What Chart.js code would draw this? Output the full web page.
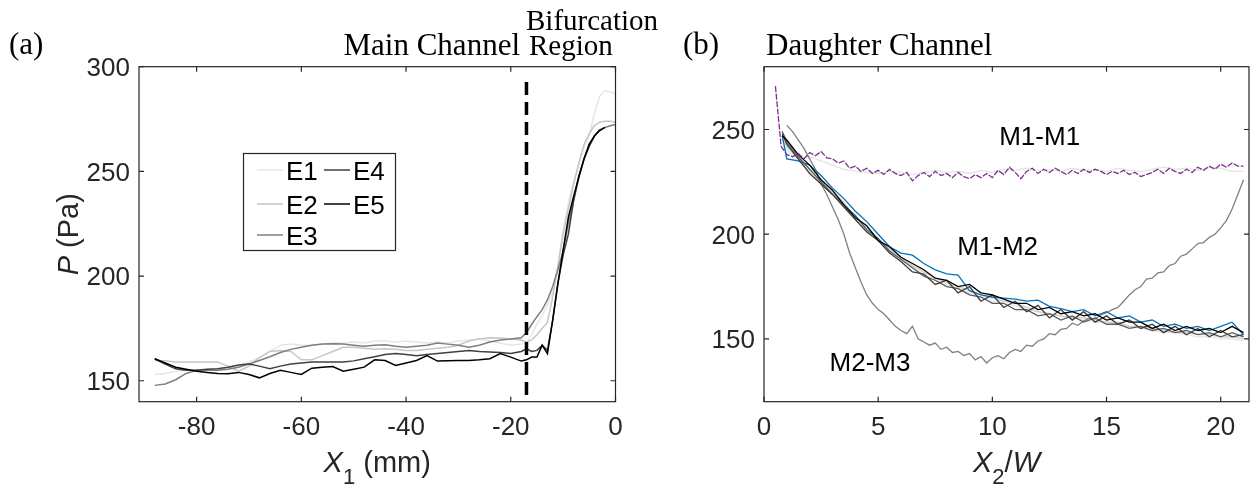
<!DOCTYPE html>
<html lang="en">
<head>
<meta charset="UTF-8">
<title>Pressure along main and daughter channels</title>
<script src="https://cdn.jsdelivr.net/npm/chart.js"></script>
<style>
  body { margin: 0; background: #fff; }
  #wrap { position: relative; width: 1256px; height: 491px; }
  canvas { position: absolute; top: 0; }
  #chartA { left: 0; }
  #chartB { left: 640px; }
</style>
</head>
<body>
<div id="wrap">
  <canvas id="chartA" width="700" height="491"></canvas>
  <canvas id="chartB" width="616" height="491"></canvas>
</div>
<script>
// ---- panel (a): main channel, X1 in mm ----
const xA = [-88,-86,-84,-82,-80,-78,-76,-74,-72,-70,-68,-66,-64,-62,-60,-58,-56,-54,-52,-50,
  -48,-46,-44,-42,-40,-38,-36,-34,-32,-30,-28,-26,-24,-22,-20,-18,
  -17,-16,-15,-14,-13,-12,-11,-10,-9,-8,-7,-6,-5,-4,-3,-2,-1,0];
const e1 = [153,153.5,154.5,155,155,155.5,155,156,157,159,161,164,167,167.5,167,167,167.5,168,168,168.5,
  168,169,169,168.5,169,168.5,168,168.5,168,169,169.5,170,169,168,167,167.5,
  168,172,177,181,186,193,205,222,235,245,253,262,267,278,286,288.5,288,287];
const e2 = [159.7,159.5,159,159,159,159,159,157,154.6,157,161,164,164.5,164,160,160,162,164,166,166,
  165.5,165,165.3,165,164.5,164.5,165,165.5,166,167,169,170,170.5,170.4,170,169.5,
  168.5,169.5,172,175,178,190,205,220,232,244,254,263,268,272,273.5,274,274,273.5];
const e3 = [147.8,148.5,150.5,153.5,155,155,155,155.5,156.5,158,159.7,161.5,163.5,165,166,167,167.5,167.7,167.5,167,
  166.5,167,167.2,166.5,166,166.5,167,168,167.5,167,166,167,168.5,169.5,170,170.5,
  173,177,180.6,184,188.6,195,203,212,225,236,247,256,263,267,270,271,271.8,272.4];
const e4 = [160.5,158,155.7,155,155,155.5,155.7,156.5,157.5,158,157,155.7,157,158,158.5,159,159,159,159,159.5,
  160.5,161.5,162.5,163,162.5,162,162.5,163,163.5,164,164.5,164,163.7,163.5,163,164,
  165.3,164,164.5,166.9,164.5,178.8,196.5,210,220,236,248,256,262,267,270,null,null,null];
const e5 = [160.5,158.5,156.5,155.5,154.5,154,153.5,153.3,154,153,151.4,153.5,155,154,153,156,156.5,156.8,154.6,155.5,
  156.5,160,159.7,157.3,158.5,159.7,162,159.4,159.5,159.7,159.7,160,160.5,163,161.3,159.4,
  160,161.3,161.3,167,163,178.8,196.5,212.4,228,238,247.3,256,263,267,269.5,271,null,null];
const xTicksA = [-80,-60,-40,-20,0];
const yTicksA = [150,200,250,300];
const bifurcationX = -17;

// ---- panel (b): daughter channel, X2/W ----
const xM11 = [0.5,0.75,1,1.25,1.5,1.75,2,2.25,2.5,2.75,3,3.25,3.5,3.75,4,4.25,4.5,4.75,5,5.25,
  5.5,5.75,6,6.25,6.5,6.75,7,7.25,7.5,7.75,8,8.25,8.5,8.75,9,9.25,9.5,9.75,10,10.25,
  10.5,10.75,11,11.25,11.5,11.75,12,12.25,12.5,12.75,13,13.25,13.5,13.75,14,14.25,14.5,14.75,15,15.25,
  15.5,15.75,16,16.25,16.5,16.75,17,17.25,17.5,17.75,18,18.25,18.5,18.75,19,19.25,19.5,19.75,20,20.25,
  20.5,20.75,21];
const m11 = [270.7,242,238,237,238.5,236,239,237.5,239.5,236.5,236,234,235,231.5,232.5,230,231.5,229,230.5,228.5,
  231,229,228,229.5,225.5,228,229.5,227.5,230,228,229,227,229.5,227.5,226.5,228.5,227,229,227,230.5,
  228.5,232,229.5,226.5,230,231.5,229,231,229.5,231.5,230,228.5,230.5,229,231,229.5,231,230,228.5,230,
  229,230.5,228.5,229.5,227.5,228.5,229.5,231,229,231.5,230,229,231,229.5,232,230.5,232.5,231,233.5,232,
  234,232.5,232.5];
const m23 = [null,null,252,249,245,241,236,231,224,219,213,207,200,191,184,177,171,167,164,162,
  159,156,154,152.5,156,150,148.5,147,148,145,146,143.5,144,142,143,140,141.5,138.5,141,142,
  140.5,143.5,145,144,147,146.5,149,150,152.5,152,154.5,155,157.5,156.5,158.5,160,159.5,161.5,162.5,164,
  165,168,171,173.5,175,178.5,179,181.5,182,185,186,189.5,190.5,193,195.5,196,198.5,200,203,206.5,
  212,219,226];
const xB = [0.8,1,1.5,2,2.5,3,3.5,4,4.5,5,5.5,6,6.5,7,7.5,8,8.5,9,9.5,10,
  10.5,11,11.5,12,12.5,13,13.5,14,14.5,15,15.5,16,16.5,17,17.5,18,18.5,19,19.5,20,20.5,21];
const m11Light = [241,240,236,237,235,233,231,230,229.5,229,230,229.5,228.5,229.5,230.5,229.5,230,229,230.5,229.5,
  231,230.5,231.5,230.5,231,230,231.5,230.5,231,230,231.5,230.5,230,231,232,231,231.5,230.5,232,231.5,230,230];
const m12Blue = [247,236,235,233,228,222,217,211,206,200,194,191,190,186,183,181,180.5,173,171,170,
  169.5,169,168,168.5,165.5,164.5,163,164,161,163,160,161,158,159,156,157,155,156,154,156,158,152];
const m12Black = [247,245,238,233,226,221,214,208,204,197,194,189,186,183,179,178,175,176,172,171,
  169,167,167,164,165,162,163,161,162,159,160,158,158,155,157,154,156,154,155,153,156,153];
const m12Dark = [248,243,236,229,224,219,213,207,201,197,191,187,182,181,176,178,172,175,168,171,
  165,168,163,166,160,164,159,163,158,161,157,159,155,157,153,156,152,155,151,154,151,152];
const m12Mid = [249,244,237,231,225,219,214,209,202,198,192,188,184,180,178,175,174,171,170,167,
  167,164,164,161,162,159,161,158,160,157,157,155,156,154,155,153,154,152,153,151,153,151];
const m12Light = [246,242,236,231,225,220,215,208,203,198,193,189,185,182,179,177,175,173,171,169.5,
  168,167,165,163,162,161,160,160,159,158,158,156,156,155,154,153,153,152,152,151,151,150];
const m12Pale = [245,241,235,230,224,219,213,207,202,197,192,188,184,181,178,176,174,172,170,168,
  167,166,164,163,162,161,160,159,158,158,157,156,155,154,153,153,152,151,151,150,150,149];
const xTicksB = [0,5,10,15,20];
const yTicksB = [150,200,250];
const pairLabels = [
  { text: 'M1-M1', x: 10.3, y: 246.2 },
  { text: 'M1-M2', x: 8.46, y: 193.3 },
  { text: 'M2-M3', x: 2.87, y: 138.3 }
];

const SANS = "'Liberation Sans', Arial, Helvetica, sans-serif";
const SERIF = "'Liberation Serif', 'Times New Roman', serif";
const INK = '#262626';

function pts(xs, ys) {
  return xs.map((x, i) => ({ x: x, y: ys[i] }));
}

function line(label, xs, ys, color, extra) {
  return Object.assign({
    label: label, data: pts(xs, ys), borderColor: color, backgroundColor: color,
    borderWidth: 1.5, pointRadius: 0, tension: 0, fill: false, spanGaps: false
  }, extra || {});
}

// box, inward ticks and tick labels (matlab look)
const boxTicks = {
  id: 'boxTicks',
  afterDatasetsDraw(chart) {
    const ctx = chart.ctx, a = chart.chartArea;
    const sx = chart.scales.x, sy = chart.scales.y;
    ctx.save();
    ctx.strokeStyle = INK;
    ctx.lineWidth = 1.2;
    ctx.strokeRect(a.left, a.top, a.right - a.left, a.bottom - a.top);
    ctx.beginPath();
    sx.ticks.forEach(t => {
      const p = sx.getPixelForValue(t.value);
      ctx.moveTo(p, a.bottom); ctx.lineTo(p, a.bottom - 5);
      ctx.moveTo(p, a.top); ctx.lineTo(p, a.top + 5);
    });
    sy.ticks.forEach(t => {
      const p = sy.getPixelForValue(t.value);
      ctx.moveTo(a.left, p); ctx.lineTo(a.left + 5, p);
      ctx.moveTo(a.right, p); ctx.lineTo(a.right - 5, p);
    });
    ctx.stroke();

    ctx.fillStyle = INK;
    ctx.font = '26px ' + SANS;
    ctx.textBaseline = 'alphabetic';
    ctx.textAlign = 'center';
    sx.ticks.forEach(t => {
      ctx.fillText(String(t.value), sx.getPixelForValue(t.value), a.bottom + 33.5);
    });
    ctx.textAlign = 'right';
    sy.ticks.forEach(t => {
      ctx.fillText(String(t.value), a.left - 9, sy.getPixelForValue(t.value) + 9.3);
    });
    ctx.restore();
  }
};

// text made of pieces: {t, italic, sub}
function drawRich(ctx, parts, cx, baseY, size, rotate) {
  const sub = 22;
  const fontOf = p => (p.italic ? 'italic ' : '') + (p.sub ? sub : size) + 'px ' + SANS;
  let total = 0;
  parts.forEach(p => { ctx.font = fontOf(p); total += ctx.measureText(p.t).width; });
  ctx.save();
  ctx.fillStyle = INK;
  ctx.textBaseline = 'alphabetic';
  ctx.textAlign = 'left';
  if (rotate) {
    ctx.translate(cx, baseY);
    ctx.rotate(-Math.PI / 2);
    cx = 0; baseY = 0;
  }
  let x = cx - total / 2;
  parts.forEach(p => {
    ctx.font = fontOf(p);
    ctx.fillText(p.t, x, baseY + (p.sub ? 12 : 0));
    x += ctx.measureText(p.t).width;
  });
  ctx.restore();
}

function baseOptions(xMin, xMax, xTicks, yMin, yMax, yTicks, yWidth, rightPad) {
  return {
    responsive: false,
    animation: false,
    devicePixelRatio: 1,
    layout: { padding: { left: 0, right: rightPad, top: 66.7, bottom: 0 } },
    plugins: { legend: { display: false }, tooltip: { enabled: false } },
    scales: {
      x: {
        type: 'linear', min: xMin, max: xMax,
        afterBuildTicks: s => { s.ticks = xTicks.map(v => ({ value: v })); },
        afterFit: s => { s.height = 89.3; },
        grid: { display: false, drawTicks: false },
        border: { display: false },
        ticks: { display: false }
      },
      y: {
        type: 'linear', min: yMin, max: yMax,
        afterBuildTicks: s => { s.ticks = yTicks.map(v => ({ value: v })); },
        afterFit: s => { s.width = yWidth; },
        grid: { display: false, drawTicks: false },
        border: { display: false },
        ticks: { display: false }
      }
    }
  };
}

// ---------- chart (a) ----------
const setsA = [
  line('E5', xA, e5, '#000000'),
  line('E4', xA, e4, '#404040'),
  line('E3', xA, e3, '#7f7f7f'),
  line('E2', xA, e2, '#c9c5bf'),
  line('E1', xA, e1, '#e6e6e6')
];

const decorA = {
  id: 'decorA',
  afterDatasetsDraw(chart) {
    const ctx = chart.ctx, a = chart.chartArea, sx = chart.scales.x;
    // bifurcation marker
    const px = sx.getPixelForValue(bifurcationX);
    ctx.save();
    ctx.strokeStyle = '#000';
    ctx.lineWidth = 3.5;
    ctx.setLineDash([13, 7]);
    ctx.beginPath();
    ctx.moveTo(px, 82); ctx.lineTo(px, a.bottom);
    ctx.stroke();
    ctx.setLineDash([]);

    // legend, two columns
    ctx.fillStyle = '#fff';
    ctx.fillRect(243, 153, 152, 97);
    ctx.strokeStyle = INK;
    ctx.lineWidth = 1.2;
    ctx.strokeRect(243.5, 153.5, 152, 97);
    const byLabel = {};
    chart.data.datasets.forEach(d => { byLabel[d.label] = d.borderColor; });
    const cells = [
      ['E1', 257, 170], ['E2', 257, 204], ['E3', 257, 235],
      ['E4', 324, 170], ['E5', 324, 204]
    ];
    ctx.font = '26px ' + SANS;
    ctx.textBaseline = 'alphabetic';
    ctx.textAlign = 'left';
    cells.forEach(c => {
      ctx.strokeStyle = byLabel[c[0]];
      ctx.lineWidth = 1.5;
      ctx.beginPath();
      ctx.moveTo(c[1], c[2]); ctx.lineTo(c[1] + 26, c[2]);
      ctx.stroke();
      ctx.fillStyle = '#000';
      ctx.fillText(c[0], c[1] + 29, c[2] + 9.5);
    });

    // titles
    ctx.fillStyle = '#000';
    ctx.font = '31px ' + SERIF;
    ctx.fillText('(a)', 9, 54);
    ctx.font = '29px ' + SERIF;
    ctx.fillText('Bifurcation', 526, 30);
    ctx.fillText('Region', 529, 55);
    ctx.font = '31px ' + SERIF;
    ctx.textAlign = 'right';
    ctx.fillText('Main Channel', 520, 55);
    ctx.restore();

    drawRich(ctx, [{ t: 'X', italic: true }, { t: '1', sub: true }, { t: ' (mm)' }],
      (a.left + a.right) / 2, 472, 29, false);
    drawRich(ctx, [{ t: 'P', italic: true }, { t: ' (Pa)' }], 78, (a.top + a.bottom) / 2, 29, true);
  }
};

new Chart(document.getElementById('chartA'), {
  type: 'line',
  data: { datasets: setsA },
  options: baseOptions(-91, 0, xTicksA, 140, 300, yTicksA, 139, 84.5),
  plugins: [boxTicks, decorA]
});

// ---------- chart (b) ----------
const thin = { borderWidth: 1.3 };
const setsB = [
  line('M1-M1', xM11, m11, '#7E2F8E', { borderDash: [6, 1.5], borderWidth: 1.3 }),
  line('M1-M2 E5', xB, m12Black, '#000000', thin),
  line('M1-M2 E4', xB, m12Dark, '#3c3c3c', thin),
  line('M1-M2 E3', xB, m12Mid, '#5c5c5c', thin),
  line('M1-M2 blue', xB, m12Blue, '#0072BD', thin),
  line('M2-M3', xM11, m23, '#808080', thin),
  line('M1-M2 E2', xB, m12Light, '#cccccc', thin),
  line('M1-M2 E1', xB, m12Pale, '#e6e6e6', thin),
  line('M1-M1 E1', xB, m11Light, '#e3e3e3', thin)
];

const decorB = {
  id: 'decorB',
  afterDatasetsDraw(chart) {
    const ctx = chart.ctx, a = chart.chartArea, sx = chart.scales.x, sy = chart.scales.y;
    ctx.save();
    ctx.fillStyle = '#000';
    ctx.font = '26px ' + SANS;
    ctx.textAlign = 'left';
    ctx.textBaseline = 'middle';
    pairLabels.forEach(l => {
      ctx.fillText(l.text, sx.getPixelForValue(l.x), sy.getPixelForValue(l.y));
    });
    ctx.textBaseline = 'alphabetic';
    ctx.font = '31px ' + SERIF;
    ctx.fillText('(b)', 43, 54);
    ctx.fillText('Daughter Channel', 126, 55);
    ctx.restore();

    drawRich(ctx, [{ t: 'X', italic: true }, { t: '2', sub: true }, { t: '/' }, { t: 'W', italic: true }],
      (a.left + a.right) / 2, 472, 29, false);
  }
};

new Chart(document.getElementById('chartB'), {
  type: 'line',
  data: { datasets: setsB },
  options: baseOptions(0, 21.24, xTicksB, 120, 280, yTicksB, 124, 7),
  plugins: [boxTicks, decorB]
});
</script>
</body>
</html>
